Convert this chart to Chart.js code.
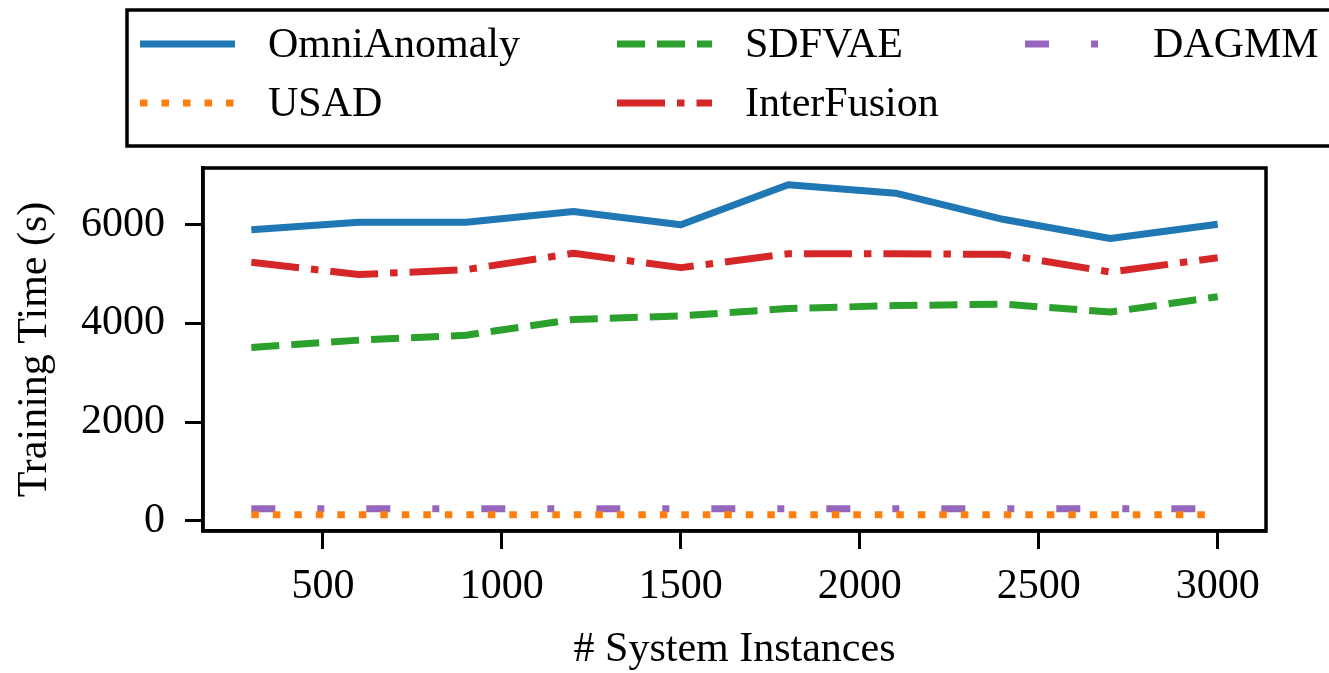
<!DOCTYPE html>
<html>
<head>
<meta charset="utf-8">
<script src="https://cdn.jsdelivr.net/npm/chart.js@4.4.0/dist/chart.umd.min.js"></script>
<style>
  html, body { margin: 0; padding: 0; background: #fff; }
</style>
</head>
<body>
<canvas id="chart" width="1329" height="673"></canvas>
<script>
// values
const instances   = [300, 600, 900, 1200, 1500, 1800, 2100, 2400, 2700, 3000];
const omniAnomaly = [5900, 6050, 6050, 6270, 6000, 6810, 6640, 6110, 5720, 6010];
const usad        = [120, 120, 120, 120, 120, 120, 120, 120, 120, 120];
const sdfvae      = [3510, 3660, 3760, 4080, 4150, 4300, 4360, 4390, 4230, 4540];
const interFusion = [5240, 4990, 5090, 5420, 5130, 5410, 5410, 5400, 5040, 5330];
const dagmm       = [240, 240, 240, 240, 240, 240, 240, 240, 240, 240];

const xTicks = [500, 1000, 1500, 2000, 2500, 3000];
const yTicks = [0, 2000, 4000, 6000];

const FONT = '"Liberation Serif", "Times New Roman", serif';
const LW = 7;

function pts(vals) {
  return instances.map((x, i) => ({ x: x, y: vals[i] }));
}

function series(label, vals, color, dash) {
  return {
    label: label,
    data: pts(vals),
    borderColor: color,
    backgroundColor: color,
    borderWidth: LW,
    borderDash: dash,
    borderCapStyle: 'butt',
    borderJoinStyle: 'round',
    pointRadius: 0,
    tension: 0,
    fill: false
  };
}

// order matches the matplotlib legend (column-major, 3 columns)
const datasets = [
  series('OmniAnomaly', omniAnomaly, '#1f77b4', []),
  series('USAD', usad, '#ff7f0e', [7.5, 14]),
  series('SDFVAE', sdfvae, '#2ca02c', [28, 12]),
  series('InterFusion', interFusion, '#d62728', [48, 12, 7.5, 12]),
  series('DAGMM', dagmm, '#9467bd', [24, 42, 7, 42])
];

// frame around plot + boxed legend at the top
const framePlugin = {
  id: 'frame',
  afterDraw(chart) {
    const ctx = chart.ctx;
    const a = chart.chartArea;
    ctx.save();
    ctx.strokeStyle = '#000';
    ctx.lineWidth = 3.5;
    ctx.strokeRect(a.left, a.top, a.right - a.left, a.bottom - a.top);

    // legend box
    ctx.strokeRect(127, 10, 1329 - 127 + 20, 136);

    const colX = [140, 617, 1025];
    const rowY = [44, 103];
    chart.data.datasets.forEach((ds, i) => {
      const col = Math.floor(i / 2);
      const row = i % 2;
      const x = colX[col], y = rowY[row];
      ctx.beginPath();
      ctx.setLineDash(ds.borderDash);
      ctx.lineCap = 'butt';
      ctx.strokeStyle = ds.borderColor;
      ctx.lineWidth = LW;
      ctx.moveTo(x, y);
      ctx.lineTo(x + 95, y);
      ctx.stroke();
      ctx.setLineDash([]);
      ctx.fillStyle = '#000';
      ctx.font = '42px ' + FONT;
      ctx.textBaseline = 'middle';
      ctx.textAlign = 'left';
      ctx.fillText(ds.label, x + 128, y + 2);
    });
    ctx.restore();
  }
};

new Chart(document.getElementById('chart'), {
  type: 'line',
  data: { datasets: datasets },
  options: {
    responsive: false,
    animation: false,
    layout: { padding: { top: 168, right: 63, left: 0, bottom: 0 } },
    plugins: { legend: { display: false }, tooltip: { enabled: false } },
    scales: {
      x: {
        type: 'linear',
        min: 165,
        max: 3135,
        afterBuildTicks: s => { s.ticks = xTicks.map(v => ({ value: v })); },
        afterFit: s => { s.height = 673 - 531; },
        grid: { display: true, drawOnChartArea: false, drawTicks: true, tickLength: 18, tickWidth: 3, color: '#000' },
        border: { display: true, color: '#000', width: 3.5 },
        ticks: { color: '#000', font: { family: FONT, size: 42 }, padding: 13, maxRotation: 0, callback: v => String(v) },
        title: { display: true, text: '# System Instances', color: '#000', font: { family: FONT, size: 42 }, padding: { top: 10, bottom: -2 } }
      },
      y: {
        min: -210,
        max: 7150,
        afterBuildTicks: s => { s.ticks = yTicks.map(v => ({ value: v })); },
        afterFit: s => { s.width = 203; },
        grid: { display: true, drawOnChartArea: false, drawTicks: true, tickLength: 18, tickWidth: 3, color: '#000' },
        border: { display: true, color: '#000', width: 3.5 },
        ticks: { color: '#000', font: { family: FONT, size: 42 }, padding: 20, callback: v => String(v) },
        title: { display: true, text: 'Training Time (s)', color: '#000', font: { family: FONT, size: 42 }, padding: { top: 10 } }
      }
    }
  },
  plugins: [framePlugin]
});
</script>
</body>
</html>
